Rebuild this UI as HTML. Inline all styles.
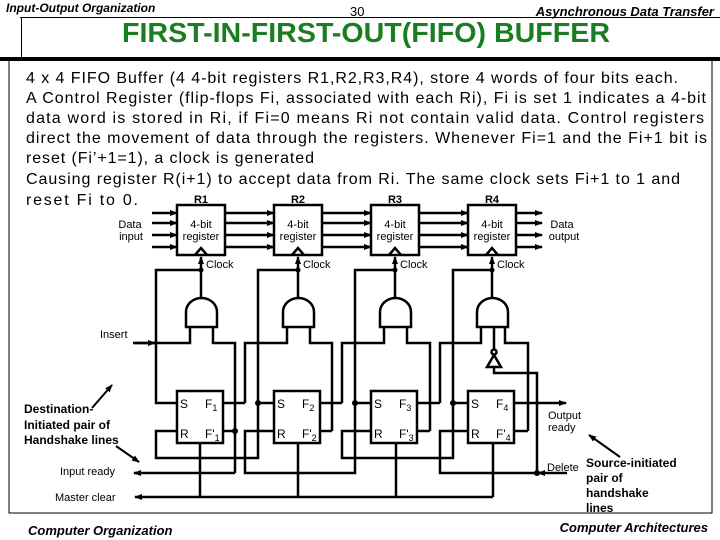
<!DOCTYPE html>
<html><head><meta charset="utf-8"><style>
body{margin:0;background:#fff}
svg{display:block}
text{font-family:"Liberation Sans",sans-serif}
</style></head><body>
<svg width="720" height="540" viewBox="0 0 720 540" xmlns="http://www.w3.org/2000/svg">
<defs><marker id="a" markerWidth="8" markerHeight="8" refX="7" refY="4" orient="auto" markerUnits="userSpaceOnUse"><path d="M0,1 L8,4 L0,7 z" fill="#000"/></marker></defs>
<text x="6" y="12" font-size="12" font-style="italic" font-weight="bold">Input-Output Organization</text>
<text x="350" y="16" font-size="13">30</text>
<text x="714" y="16" font-size="13" font-style="italic" font-weight="bold" text-anchor="end">Asynchronous Data Transfer</text>
<line x1="20" y1="17.5" x2="720" y2="17.5" stroke="#000" stroke-width="1"/>
<line x1="21.5" y1="17" x2="21.5" y2="58" stroke="#000" stroke-width="1"/>
<rect x="0" y="57" width="720" height="4" fill="#000"/>
<text x="122" y="42" font-size="28" font-weight="bold" fill="#1b7d22" textLength="488" lengthAdjust="spacingAndGlyphs">FIRST-IN-FIRST-OUT(FIFO)  BUFFER</text>
<polyline points="9,61 9,513 712,513 712,61" fill="none" stroke="#000" stroke-width="1"/>
<g font-size="16">
<text x="26" y="83" textLength="652" lengthAdjust="spacing">4 x 4 FIFO Buffer (4  4-bit registers R1,R2,R3,R4), store 4 words of four bits each.</text>
<text x="26" y="103" textLength="680" lengthAdjust="spacing">A Control Register (flip-flops Fi, associated with each Ri), Fi is set 1 indicates a 4-bit</text>
<text x="26" y="123" textLength="678" lengthAdjust="spacing">data word is stored in Ri, if Fi=0 means Ri not contain valid data. Control registers</text>
<text x="26" y="143" textLength="681" lengthAdjust="spacing">direct the movement of data through the registers. Whenever Fi=1 and the Fi+1 bit is</text>
<text x="26" y="163" textLength="288" lengthAdjust="spacing">reset (Fi’+1=1), a clock is generated</text>
<text x="26" y="184" textLength="654" lengthAdjust="spacing">Causing register R(i+1) to accept data from Ri. The same clock sets Fi+1 to 1 and</text>
<text x="26" y="205" textLength="112" lengthAdjust="spacing">reset Fi to 0.</text>
</g>
<g font-size="11" font-weight="bold" text-anchor="middle">
<text x="201" y="203">R1</text><text x="298" y="203">R2</text><text x="395" y="203">R3</text><text x="492" y="203">R4</text>
</g>
<text x="130" y="228" font-size="11" text-anchor="middle">Data</text><text x="131" y="240" font-size="11" text-anchor="middle">input</text>
<text x="562" y="228" font-size="11" text-anchor="middle">Data</text><text x="564" y="240" font-size="11" text-anchor="middle">output</text>
<g stroke="#000" stroke-width="2.5" fill="none">
<line x1="152" y1="213" x2="177" y2="213" marker-end="url(#a)"/>
<line x1="152" y1="223" x2="177" y2="223" marker-end="url(#a)"/>
<line x1="152" y1="235" x2="177" y2="235" marker-end="url(#a)"/>
<line x1="152" y1="247" x2="177" y2="247" marker-end="url(#a)"/>
<rect x="177" y="205" width="48" height="50" fill="#fff"/>
<rect x="274" y="205" width="48" height="50" fill="#fff"/>
<rect x="371" y="205" width="48" height="50" fill="#fff"/>
<rect x="468" y="205" width="48" height="50" fill="#fff"/>
<g>
<line x1="225" y1="213" x2="274" y2="213" marker-end="url(#a)"/><line x1="225" y1="223" x2="274" y2="223" marker-end="url(#a)"/><line x1="225" y1="235" x2="274" y2="235" marker-end="url(#a)"/><line x1="225" y1="247" x2="274" y2="247" marker-end="url(#a)"/>
<line x1="322" y1="213" x2="371" y2="213" marker-end="url(#a)"/><line x1="322" y1="223" x2="371" y2="223" marker-end="url(#a)"/><line x1="322" y1="235" x2="371" y2="235" marker-end="url(#a)"/><line x1="322" y1="247" x2="371" y2="247" marker-end="url(#a)"/>
<line x1="419" y1="213" x2="468" y2="213" marker-end="url(#a)"/><line x1="419" y1="223" x2="468" y2="223" marker-end="url(#a)"/><line x1="419" y1="235" x2="468" y2="235" marker-end="url(#a)"/><line x1="419" y1="247" x2="468" y2="247" marker-end="url(#a)"/>
<line x1="516" y1="213" x2="542" y2="213" marker-end="url(#a)"/><line x1="516" y1="223" x2="542" y2="223" marker-end="url(#a)"/><line x1="516" y1="235" x2="542" y2="235" marker-end="url(#a)"/><line x1="516" y1="247" x2="542" y2="247" marker-end="url(#a)"/>
</g>
<path d="M195,255 L201,248 L207,255"/><path d="M292,255 L298,248 L304,255"/><path d="M389,255 L395,248 L401,255"/><path d="M486,255 L492,248 L498,255"/>
<line x1="201" y1="298" x2="201" y2="257" marker-end="url(#a)"/>
<line x1="298" y1="298" x2="298" y2="257" marker-end="url(#a)"/>
<line x1="395" y1="298" x2="395" y2="257" marker-end="url(#a)"/>
<line x1="492" y1="298" x2="492" y2="257" marker-end="url(#a)"/>
<polyline points="201,270 156,270 156,403 177,403"/>
<polyline points="298,270 258,270 258,403 274,403"/>
<polyline points="395,270 355,270 355,403 371,403"/>
<polyline points="492,270 453,270 453,403 468,403"/>
<path d="M186,327 L186,312 A15.5,14 0 0 1 217,312 L217,327 Z" fill="#fff"/>
<path d="M283,327 L283,312 A15.5,14 0 0 1 314,312 L314,327 Z" fill="#fff"/>
<path d="M380,327 L380,312 A15.5,14 0 0 1 411,312 L411,327 Z" fill="#fff"/>
<path d="M477,327 L477,312 A15.5,14 0 0 1 508,312 L508,327 Z" fill="#fff"/>
<polyline points="190,327 190,343 135,343"/>
<line x1="133" y1="343" x2="155" y2="343" marker-end="url(#a)"/>
<polyline points="213,327 213,343 235,343 235,473"/>
<polyline points="287,327 287,343 245,343 245,403"/>
<polyline points="310,327 310,343 332,343 332,431"/>
<polyline points="384,327 384,343 342,343 342,403"/>
<polyline points="407,327 407,343 430,343 430,431"/>
<polyline points="481,327 481,343 440,343 440,403"/>
<polyline points="505,327 505,343 528,343 528,431"/>
<line x1="494" y1="327" x2="494" y2="350"/>
<circle cx="494" cy="352" r="2.5" fill="#fff"/>
<path d="M494,355 L487,367 L501,367 Z" fill="#fff"/>
<polyline points="494,367 494,373 537,373 537,473"/>
<rect x="177" y="391" width="46" height="52" fill="#fff"/>
<rect x="274" y="391" width="46" height="52" fill="#fff"/>
<rect x="371" y="391" width="46" height="52" fill="#fff"/>
<rect x="468" y="391" width="46" height="52" fill="#fff"/>
<line x1="223" y1="403" x2="245" y2="403"/>
<line x1="223" y1="431" x2="235" y2="431"/>
<line x1="320" y1="403" x2="342" y2="403"/>
<line x1="320" y1="431" x2="332" y2="431"/>
<line x1="417" y1="403" x2="440" y2="403"/>
<line x1="417" y1="431" x2="430" y2="431"/>
<line x1="514" y1="403" x2="566" y2="403" marker-end="url(#a)"/>
<line x1="514" y1="431" x2="528" y2="431"/>
<polyline points="177,431 156,431 156,458 258,458 258,403"/>
<polyline points="274,431 245,431 245,473 355,473 355,403"/>
<polyline points="371,431 342,431 342,458 453,458 453,403"/>
<polyline points="468,431 440,431 440,473 537,473"/>
<line x1="235" y1="473" x2="134" y2="473" marker-end="url(#a)"/>
<line x1="567" y1="473" x2="538" y2="473" marker-end="url(#a)"/>
<line x1="493" y1="497" x2="135" y2="497" marker-end="url(#a)"/>
<line x1="200" y1="443" x2="200" y2="497"/><line x1="298" y1="443" x2="298" y2="497"/><line x1="396" y1="443" x2="396" y2="497"/><line x1="493" y1="443" x2="493" y2="497"/>
</g>
<g fill="#000">
<circle cx="201" cy="270" r="2.5"/><circle cx="298" cy="270" r="2.5"/><circle cx="395" cy="270" r="2.5"/><circle cx="492" cy="270" r="2.5"/>
<circle cx="235" cy="431" r="3"/><circle cx="258" cy="403" r="3"/><circle cx="355" cy="403" r="3"/><circle cx="453" cy="403" r="3"/><circle cx="537" cy="473" r="3"/>
</g>
<g font-size="11" text-anchor="middle">
<text x="201" y="228">4-bit</text><text x="201" y="240">register</text>
<text x="298" y="228">4-bit</text><text x="298" y="240">register</text>
<text x="395" y="228">4-bit</text><text x="395" y="240">register</text>
<text x="492" y="228">4-bit</text><text x="492" y="240">register</text>
</g>
<g font-size="11">
<text x="206" y="268">Clock</text><text x="303" y="268">Clock</text><text x="400" y="268">Clock</text><text x="497" y="268">Clock</text>
<text x="100" y="338">Insert</text>
<text x="548" y="419">Output</text><text x="548" y="431">ready</text>
<text x="547" y="471">Delete</text>
<text x="60" y="475">Input ready</text>
<text x="55" y="501">Master clear</text>
</g>
<g font-size="12">
<text x="180" y="408">S</text><text x="180" y="438">R</text><text x="205" y="408">F<tspan font-size="9" dy="3">1</tspan></text><text x="205" y="438">F'<tspan font-size="9" dy="3">1</tspan></text>
<text x="277" y="408">S</text><text x="277" y="438">R</text><text x="302" y="408">F<tspan font-size="9" dy="3">2</tspan></text><text x="302" y="438">F'<tspan font-size="9" dy="3">2</tspan></text>
<text x="374" y="408">S</text><text x="374" y="438">R</text><text x="399" y="408">F<tspan font-size="9" dy="3">3</tspan></text><text x="399" y="438">F'<tspan font-size="9" dy="3">3</tspan></text>
<text x="471" y="408">S</text><text x="471" y="438">R</text><text x="496" y="408">F<tspan font-size="9" dy="3">4</tspan></text><text x="496" y="438">F'<tspan font-size="9" dy="3">4</tspan></text>
</g>
<g font-size="12" font-weight="bold">
<text x="24" y="413">Destination-</text><text x="24" y="429">Initiated pair of</text><text x="24" y="444">Handshake lines</text>
<text x="586" y="467">Source-initiated</text><text x="586" y="482">pair of</text><text x="586" y="497">handshake</text><text x="586" y="512">lines</text>
</g>
<g stroke="#000" stroke-width="2">
<line x1="92" y1="408" x2="112" y2="385" marker-end="url(#a)"/>
<line x1="116" y1="446" x2="139" y2="462" marker-end="url(#a)"/>
<line x1="620" y1="457" x2="589" y2="435" marker-end="url(#a)"/>
</g>
<text x="28" y="535" font-size="13" font-style="italic" font-weight="bold">Computer Organization</text>
<text x="708" y="532" font-size="13" font-style="italic" font-weight="bold" text-anchor="end">Computer Architectures</text>
</svg>
</body></html>
